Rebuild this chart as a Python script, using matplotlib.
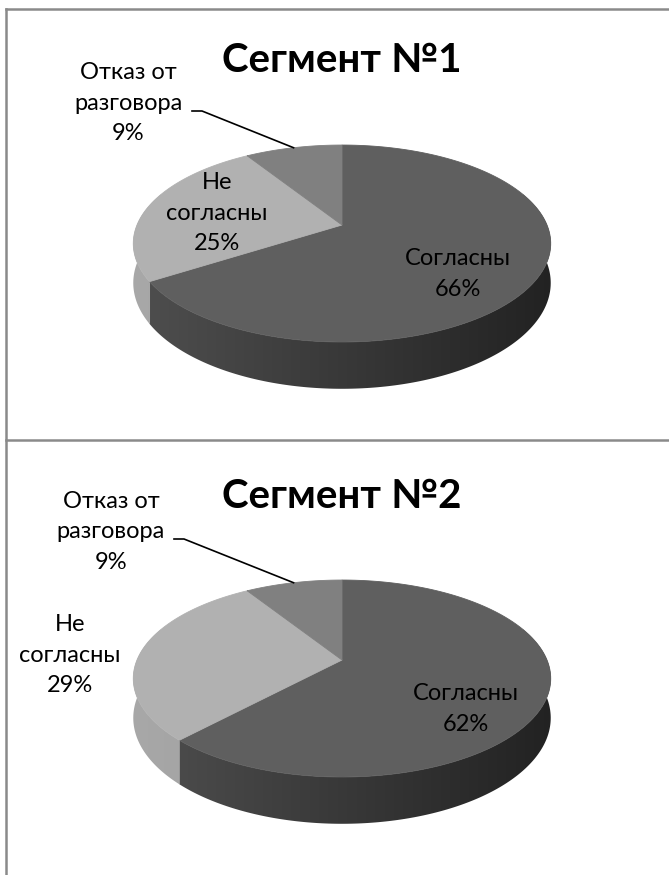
import numpy as np
import matplotlib.pyplot as plt
from matplotlib.colors import to_rgb
from matplotlib.patches import Polygon

# ---- data ----
categories = ['Согласны', 'Не согласны', 'Отказ от разговора']
label_texts = ['Согласны', 'Не\nсогласны', 'Отказ от\nразговора']
seg1_values = [66, 25, 9]
seg2_values = [62, 29, 9]
titles = ['Сегмент №1', 'Сегмент №2']

top_colors = ['#5f5f5f', '#b1b1b1', '#808080']
side_left = ['#4f4f4f', '#a8a8a8', '#8a8a8a']
side_right = ['#222222', '#8e8e8e', '#6a6a6a']

# ---- layout (pixels) ----
W, H = 669, 875
panel_dy = [0, 435]
cx, cy0 = 342, 225          # pie vertex in the top panel
A, B, E = 205, 95, 0.188    # ellipse radii and perspective strength
DEPTH = 38
label_pos = [
    [(458, 274), (217, 213), (128, 103)],
    [(466, 709), (70, 655), (111, 532)],
]
leader_start = [(192, 111), (174, 539)]
FONT = ['Lato', 'DejaVu Sans']


def rim(phi, cy, drop=0.0):
    r = np.radians(phi)
    w = 1.0 / (1.0 + E * np.sin(r))
    x = cx + A * np.cos(r) * w
    y = cy - B * np.sin(r) * w + drop * w
    return x, y


def draw_pie(ax, values, cy, p):
    fr = np.array(values) / np.sum(values)
    ends = 90 - 360 * np.cumsum(fr)
    starts = np.concatenate([[90], ends[:-1]])

    # side wall (front part only), gradient clipped to the wall shape
    x_lo, x_hi = cx - A * 1.03, cx + A * 1.03
    for i in range(len(values)):
        a0, a1 = max(ends[i], -200), min(starts[i], 20)
        if a1 <= a0:
            continue
        ph = np.linspace(a0, a1, 200)
        tx, ty = rim(ph, cy)
        bx, by = rim(ph[::-1], cy, DEPTH)
        poly = Polygon(np.c_[np.r_[tx, bx], np.r_[ty, by]], closed=True,
                       fc='none', ec='none')
        ax.add_patch(poly)
        t = np.linspace(0, 1, 256)
        c0, c1 = np.array(to_rgb(side_left[i])), np.array(to_rgb(side_right[i]))
        grad = (c0[None, :] + (c1 - c0)[None, :] * t[:, None])[None, :, :]
        im = ax.imshow(grad, extent=[x_lo, x_hi, cy + 250, cy - 150],
                       aspect='auto', interpolation='bilinear', zorder=2)
        im.set_clip_path(poly)

    # top faces
    for i in range(len(values)):
        ph = np.linspace(starts[i], ends[i], 160)
        xs, ys = rim(ph, cy)
        ax.fill(np.r_[cx, xs], np.r_[cy, ys], color=top_colors[i],
                lw=0.6, ec=top_colors[i], zorder=3)

    # labels
    for i in range(len(values)):
        x, y = label_pos[p][i]
        ax.text(x, y, f'{label_texts[i]}\n{values[i]}%', ha='center', va='center',
                fontsize=17, family=FONT, linespacing=1.55,
                color='black', zorder=5)

    # leader line for the small slice
    mid = (starts[2] + ends[2]) / 2
    ex, ey = rim(mid, cy)
    sx, sy = leader_start[p]
    ax.plot([sx, sx + 10, ex], [sy, sy, ey], color='black', lw=1.2, zorder=4)


fig = plt.figure(figsize=(W / 100, H / 100), dpi=100)
ax = fig.add_axes([0, 0, 1, 1])

# frame lines
fc = '#8a8a8a'
ax.plot([6, 6], [9, H], color=fc, lw=1.8, zorder=1)
ax.plot([6, W], [9, 9], color=fc, lw=1.8, zorder=1)
ax.plot([6, W], [440, 440], color=fc, lw=1.8, zorder=1)

for p, vals in enumerate([seg1_values, seg2_values]):
    dy = panel_dy[p]
    draw_pie(ax, vals, cy0 + dy, p)
    ax.text(342, 60 + dy + (1 if p else 0), titles[p], ha='center', va='center',
            fontsize=29, fontweight='bold', family=FONT)

ax.set_xlim(0, W)
ax.set_ylim(H, 0)
ax.axis('off')

fig.savefig('out.png', dpi=100)
